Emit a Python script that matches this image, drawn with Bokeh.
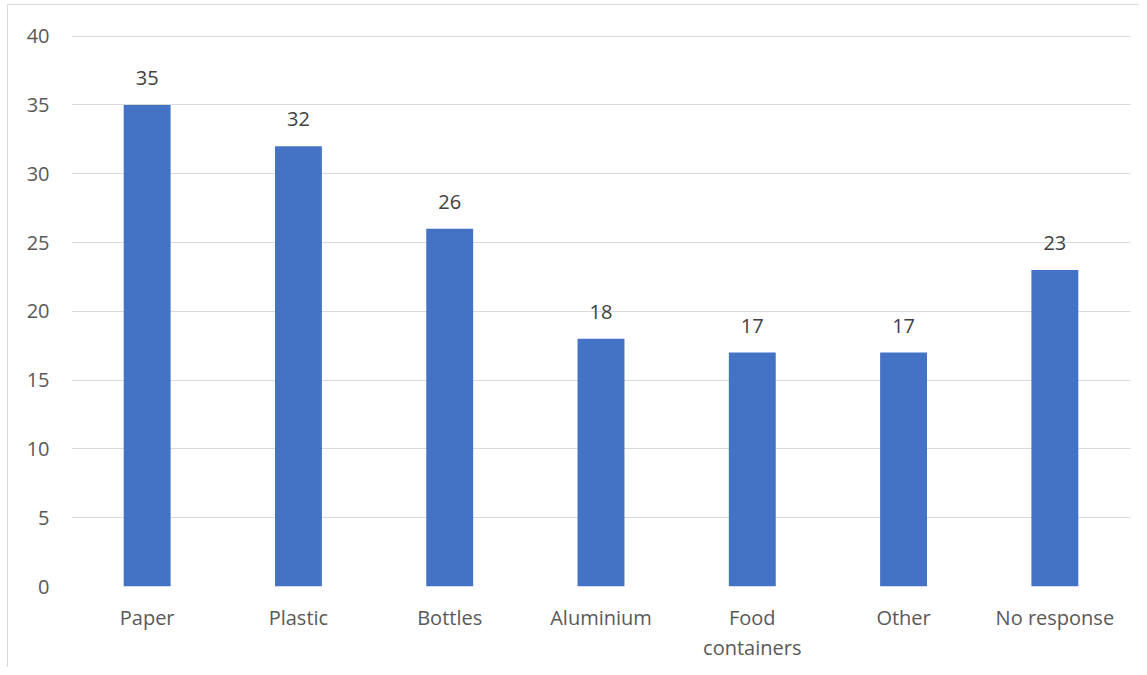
from bokeh.plotting import figure
from bokeh.models import ColumnDataSource, LabelSet, FixedTicker, LinearAxis, Range1d
from bokeh.core.properties import value
from bokeh.embed import file_html
from bokeh.resources import INLINE

categories = ["Paper", "Plastic", "Bottles", "Aluminium", "Food containers", "Other", "No response"]
label_line1 = ["Paper", "Plastic", "Bottles", "Aluminium", "Food", "Other", "No response"]
label_line2 = ["", "", "", "", "containers", "", ""]
values = [35, 32, 26, 18, 17, 17, 23]
y_ticks = [0, 5, 10, 15, 20, 25, 30, 35, 40]

pos = list(range(len(categories)))
src = ColumnDataSource(dict(x=pos, cat=categories, val=values, lbl=[str(v) for v in values]))

FONT = "Open Sans"
p = figure(x_range=Range1d(-0.5, len(categories) - 0.5), y_range=(0, 40.05),
           output_backend="svg", toolbar_location=None,
           frame_width=1059, frame_height=551, min_border_left=63, min_border_top=30,
           min_border_right=9, min_border_bottom=81, outline_line_color=None,
           background_fill_color="white", border_fill_color="white")
p.margin = (4, 0, 0, 7)
p.styles = {"border-left": "1px solid #d9d9d9", "border-top": "1px solid #d9d9d9"}

p.vbar(x="x", top="val", width=0.31, source=src, fill_color="#4472C4", line_color=None)

labels = LabelSet(x="x", y="val", text="lbl", source=src, text_align="center",
                  text_baseline="bottom", y_offset=20, text_font=value(FONT),
                  text_font_size="20px", text_color="#404040")
p.add_layout(labels)

x1 = p.xaxis[0]
x1.ticker = FixedTicker(ticks=pos)
x1.major_label_overrides = {i: t for i, t in zip(pos, label_line1)}

line2_pos = [i for i, t in zip(pos, label_line2) if t]
x2 = LinearAxis(ticker=FixedTicker(ticks=line2_pos),
                major_label_overrides={i: label_line2[i] for i in line2_pos})
p.add_layout(x2, "below")

p.yaxis.ticker = FixedTicker(ticks=y_ticks)
for ax in (x1, x2, p.yaxis[0]):
    ax.axis_line_color = None
    ax.major_tick_line_color = None
    ax.minor_tick_line_color = None
    ax.major_tick_out = 0
    ax.major_tick_in = 0
    ax.minor_tick_out = 0
    ax.minor_tick_in = 0
    ax.major_label_text_font = FONT
    ax.major_label_text_font_size = "20px"
    ax.major_label_text_color = "#595959"
p.yaxis.major_label_standoff = 22
x1.major_label_standoff = 17
x2.major_label_standoff = 0

p.xgrid.grid_line_color = None
p.ygrid.grid_line_color = "#d9d9d9"
p.ygrid.grid_line_width = 1
p.ygrid.ticker = FixedTicker(ticks=y_ticks)

open("out.html", "w").write(file_html(p, INLINE))
